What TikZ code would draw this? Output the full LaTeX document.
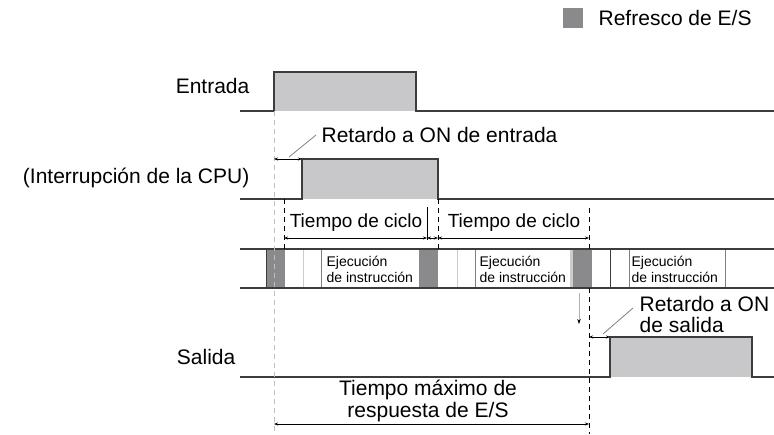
\documentclass[tikz,border=0pt]{standalone}
\usepackage{fontspec}
\setmainfont{Liberation Sans}
\usetikzlibrary{arrows.meta}
\definecolor{sigfill}{RGB}{200,200,202}
\definecolor{ioblk}{RGB}{138,138,140}
\definecolor{sigline}{RGB}{60,60,60}
\begin{document}
\begin{tikzpicture}[x=1pt, y=-1pt, line width=1.3pt,
  every node/.style={font=\fontsize{21}{22}\selectfont, inner sep=0pt},
  small/.style={font=\fontsize{14}{16}\selectfont, align=left},
  dim/.style={line width=0.8pt, {Stealth[length=4pt,width=3pt]}-{Stealth[length=4pt,width=3pt]}},
  guide/.style={line width=0.8pt, dash pattern=on 5pt off 4pt},
  thin/.style={line width=0.8pt}]
  \useasboundingbox (0,0) rectangle (774,434);
  % legend
  \node[fill=ioblk, minimum size=20pt] (key) at (573,17.5) {};
  \node[anchor=west] (keytxt) at (598,18) {Refresco de E/S};
  % signal labels
  \foreach \n/\y/\x/\t in {lbE/86/250/Entrada, lbI/178/250/(Interrupción de la CPU), lbS/357/236/Salida}
    \node[anchor=east] (\n) at (\x,\y) {\t};
  % signals
  \fill[sigfill] (274,72) rectangle (416,111);
  \fill[sigfill] (302,159) rectangle (438,199);
  \fill[sigfill] (610,337) rectangle (752,377);
  \draw[sigline] (240,111) -| (274,72) -| (416,111) -- (774,111);
  \draw[sigline] (240,199) -| (302,159) -| (438,199) -- (774,199);
  \draw[sigline] (240,377) -| (610,337) -| (752,377) -- (774,377);
  % cycle bar
  \foreach \a/\b in {266/285, 419/438, 573/592}
    \fill[ioblk] (\a,249) rectangle (\b,288);
  \fill[gray!40] (570,249) rectangle (573,288);
  \foreach \x/\c in {266/sigline, 303/gray!40, 321/gray, 457/gray!40, 475/gray, 610/sigline, 629/gray, 725/gray}
    \draw[thin, \c] (\x,249) -- (\x,288);
  \draw[sigline] (240,249) -- (774,249) (240,288) -- (774,288);
  \node[small, anchor=west] (ej1) at (326,269) {Ejecución\\de instrucción};
  \node[small, anchor=west] (ej2) at (479,269) {Ejecución\\de instrucción};
  \node[small, anchor=west] (ej3) at (631,269) {Ejecución\\de instrucción};
  % guides
  \draw[guide, gray!50] (274,111) -- (274,434);
  \draw[guide] (284,199) -- (284,249) (438,199) -- (438,249);
  \draw[guide] (589,208) -- (589,249) (589,288) -- (589,434);
  \draw[thin] (427,207) -- (427,240);
  % cycle times
  \node[font=\fontsize{19}{20}\selectfont] (tc1) at (356,223) {Tiempo de ciclo};
  \node[font=\fontsize{19}{20}\selectfont] (tc2) at (514,223) {Tiempo de ciclo};
  \draw[dim] (284,238) -- (427,238);
  \draw[dim] (427,238) -- (438,238);
  \draw[dim] (438,238) -- (589,238);
  % input delay
  \node[anchor=west] (rdE) at (321,135) {Retardo a ON de entrada};
  \coordinate (ldE) at (289,157);
  \draw[dim] (274,159) -- (302,159);
  \draw[thin, gray] (ldE) -- ([xshift=-5pt]rdE.west);
  % output delay
  \node[anchor=west, align=left, font=\fontsize{21}{21}\selectfont] (rdS) at (639,314) {Retardo a ON\\de salida};
  \coordinate (ldS) at (603,334);
  \draw[dim] (589,337) -- (610,337);
  \draw[thin, gray] (ldS) -- ([xshift=-6pt, yshift=6pt]rdS.west);
  \coordinate (dnA) at (579,293); \coordinate (dnB) at (579,324);
  \draw[thin, gray!60, -{Stealth[length=5pt,width=3.5pt,black]}] (dnA) -- (dnB);
  % max response
  \node[align=center] (tmr) at (428,401) {Tiempo máximo de\\respuesta de E/S};
  \draw[dim] (274,424) -- (589,424);
\end{tikzpicture}
\end{document}
